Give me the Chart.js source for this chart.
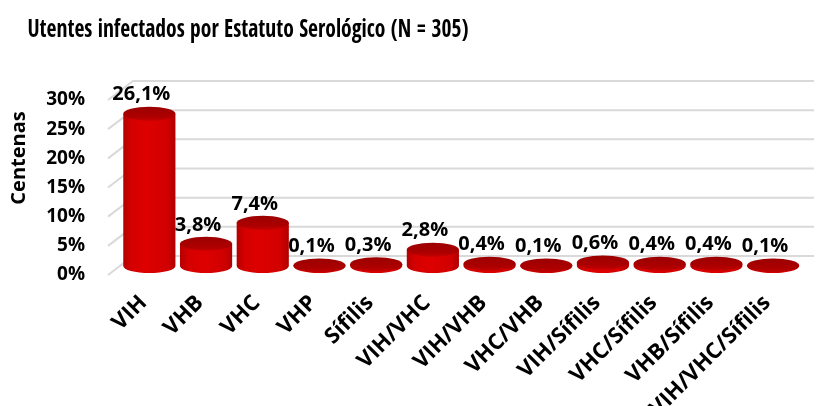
<!DOCTYPE html>
<html>
<head>
<meta charset="utf-8">
<script src="https://cdn.jsdelivr.net/npm/chart.js@4.4.1/dist/chart.umd.min.js"></script>
<style>
  body { margin: 0; background: #fff; }
  #wrap { width: 816px; height: 406px; }
</style>
</head>
<body>
<div id="wrap"><canvas id="chart" width="816" height="406"></canvas></div>
<script>
const chartTitle = "Utentes infectados por Estatuto Serológico (N = 305)";
const yTitle = "Centenas";
const categories = ["VIH", "VHB", "VHC", "VHP", "Sífilis", "VIH/VHC", "VIH/VHB", "VHC/VHB",
  "VIH/Sífilis", "VHC/Sífilis", "VHB/Sífilis", "VIH/VHC/Sífilis"];
const percentValues = [26.1, 3.8, 7.4, 0.1, 0.3, 2.8, 0.4, 0.1, 0.6, 0.4, 0.4, 0.1];
const yTicks = [0, 5, 10, 15, 20, 25, 30];

const fmt = v => v.toFixed(1).replace(".", ",") + "%";

// fake 3d: back wall grid and cylinders drawn from the bar elements
const depthFront = 9, depthBack = 10, depthDx = 25, capRy = 7;

const wallPlugin = {
  id: "wall",
  beforeDatasetsDraw(chart) {
    const { ctx, chartArea, scales } = chart;
    const left = chartArea.left - 13;
    ctx.save();
    ctx.strokeStyle = "#d9d9d9";
    ctx.lineWidth = 2;
    for (const v of yTicks) {
      const y = scales.y.getPixelForValue(v);
      ctx.beginPath();
      ctx.moveTo(left, y + depthFront);
      ctx.lineTo(left + depthDx, y - depthBack);
      ctx.lineTo(chart.width - 2, y - depthBack);
      ctx.stroke();
    }
    ctx.restore();
  }
};

const cylinderPlugin = {
  id: "cylinders",
  afterDatasetsDraw(chart) {
    const { ctx } = chart;
    const meta = chart.getDatasetMeta(0);
    ctx.save();
    meta.data.forEach((el, i) => {
      const { x, y, base, width } = el.getProps(["x", "y", "base", "width"], true);
      const rx = width / 2;
      const g = ctx.createLinearGradient(x - rx, 0, x + rx, 0);
      g.addColorStop(0, "#b40000");
      g.addColorStop(0.15, "#d40000");
      g.addColorStop(0.45, "#de0000");
      g.addColorStop(0.85, "#d00000");
      g.addColorStop(1, "#b00000");
      ctx.beginPath();
      ctx.moveTo(x - rx, y);
      ctx.lineTo(x - rx, base);
      ctx.ellipse(x, base, rx, capRy, 0, Math.PI, 0, true);
      ctx.lineTo(x + rx, y);
      ctx.closePath();
      ctx.fillStyle = g;
      ctx.fill();

      const t = ctx.createLinearGradient(0, y - capRy, 0, y + capRy);
      t.addColorStop(0, "#9c0000");
      t.addColorStop(0.7, "#ac0000");
      t.addColorStop(1, "#c40000");
      ctx.beginPath();
      ctx.ellipse(x, y, rx, capRy, 0, 0, Math.PI * 2);
      ctx.fillStyle = t;
      ctx.fill();

      ctx.fillStyle = "#000";
      ctx.font = "bold 20px 'Open Sans'";
      ctx.textAlign = "center";
      ctx.textBaseline = "middle";
      ctx.fillText(fmt(percentValues[i]), x - 8, y - 19);
    });
    ctx.restore();
  }
};

const textPlugin = {
  id: "texts",
  afterDraw(chart) {
    const { ctx } = chart;
    ctx.save();
    ctx.fillStyle = "#000";
    ctx.textAlign = "center";
    ctx.textBaseline = "middle";
    ctx.font = "bold 22px 'Open Sans Condensed'";
    ctx.translate(248, 31);
    ctx.scale(0.98, 1.12);
    ctx.fillText(chartTitle, 0, 0);
    ctx.restore();
    ctx.save();
    ctx.fillStyle = "#000";
    ctx.textAlign = "center";
    ctx.textBaseline = "middle";
    ctx.translate(19, 158);
    ctx.rotate(-Math.PI / 2);
    ctx.font = "bold 20px 'Open Sans'";
    ctx.fillText(yTitle, 0, 0);
    ctx.restore();
  }
};

new Chart(document.getElementById("chart"), {
  type: "bar",
  data: {
    labels: categories,
    datasets: [{
      data: percentValues,
      backgroundColor: "rgba(0,0,0,0)",
      barPercentage: 0.92,
      categoryPercentage: 1.0
    }]
  },
  options: {
    responsive: false,
    devicePixelRatio: 1,
    animation: false,
    layout: { padding: { top: 91, right: 6, left: 0, bottom: 0 } },
    plugins: { legend: { display: false }, tooltip: { enabled: false }, title: { display: false } },
    scales: {
      y: {
        min: 0, max: 30,
        afterFit(s) { s.width = 121; },
        afterBuildTicks(s) { s.ticks = yTicks.map(v => ({ value: v })); },
        grid: { display: false, drawTicks: false },
        border: { display: false },
        ticks: {
          callback: v => v + "%",
          color: "#000",
          font: { family: "'Open Sans'", weight: "bold", size: 19 },
          padding: 36,
          labelOffset: depthFront
        }
      },
      x: {
        afterFit(s) { s.height = 140; },
        grid: { display: false, drawTicks: false },
        border: { display: false },
        ticks: {
          autoSkip: false,
          minRotation: 45, maxRotation: 45,
          color: "#000",
          font: { family: "'Open Sans'", weight: "bold", size: 22 },
          padding: 24,
          labelOffset: -6
        }
      }
    }
  },
  plugins: [wallPlugin, cylinderPlugin, textPlugin]
});
</script>
</body>
</html>
